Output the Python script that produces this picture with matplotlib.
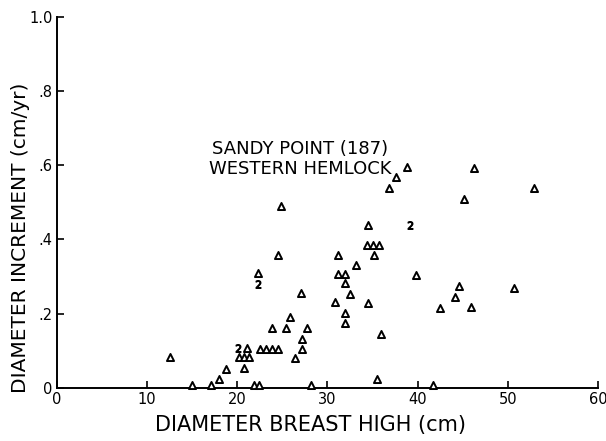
import matplotlib
matplotlib.use("Agg")
import matplotlib.pyplot as plt

# Data: diameter breast high (cm) vs diameter increment (cm/yr)
dbh = [12.5, 15.0, 17.1, 18.0, 18.8, 20.7, 20.2, 20.7, 21.3, 21.1,
       22.5, 23.2, 23.8, 24.5, 23.9, 25.4, 25.9, 27.2, 27.2, 26.4,
       27.7, 21.9, 22.4, 24.5, 24.9, 22.3, 27.1, 28.2, 38.8, 46.3,
       37.6, 36.8, 52.9, 45.1, 34.5, 34.4, 35.1, 35.7, 35.2, 31.2,
       33.2, 31.2, 31.9, 39.8, 31.9, 44.6, 50.7, 32.5, 44.1, 30.8,
       34.5, 42.5, 45.9, 32.0, 32.0, 35.9, 35.5, 41.7]
increment = [0.084, 0.008, 0.008, 0.024, 0.051, 0.054, 0.084, 0.084, 0.084, 0.108,
             0.105, 0.105, 0.105, 0.105, 0.162, 0.162, 0.192, 0.132, 0.105, 0.081,
             0.162, 0.008, 0.008, 0.357, 0.490, 0.311, 0.257, 0.008, 0.595, 0.592,
             0.568, 0.538, 0.538, 0.508, 0.438, 0.384, 0.384, 0.384, 0.359, 0.357,
             0.330, 0.308, 0.308, 0.303, 0.284, 0.276, 0.270, 0.254, 0.246, 0.232,
             0.230, 0.216, 0.219, 0.203, 0.176, 0.146, 0.024, 0.008]
# Points marked "2" (two coincident trees)
dbh_double = [20.1, 22.3, 39.2]
increment_double = [0.108, 0.281, 0.438]

x_ticks = [0, 10, 20, 30, 40, 50, 60]
x_ticklabels = ["0", "10", "20", "30", "40", "50", "60"]
y_ticks = [0, 0.2, 0.4, 0.6, 0.8, 1.0]
y_ticklabels = ["0", ".2", ".4", ".6", ".8", "1.0"]

fig = plt.figure(figsize=(6.06, 4.41), dpi=100)
ax = fig.add_axes([0.094, 0.1202, 0.8927, 0.842])

ax.scatter(dbh, increment, marker="^", s=26, facecolors="white",
           edgecolors="black", linewidths=1.4, clip_on=False, zorder=3)
ax.scatter(dbh_double, increment_double, marker="$2$", s=32, c="black",
           linewidths=0.8, clip_on=False, zorder=3)

ax.set_xlim(0, 60)
ax.set_ylim(0, 1.0)
ax.set_xticks(x_ticks)
ax.set_xticklabels(x_ticklabels)
ax.set_yticks(y_ticks)
ax.set_yticklabels(y_ticklabels)
ax.tick_params(direction="in", length=5, width=1.2, labelsize=10.5, pad=3)
for s in ["top", "right"]:
    ax.spines[s].set_visible(False)
for s in ["left", "bottom"]:
    ax.spines[s].set_linewidth(1.4)

ax.set_xlabel("DIAMETER BREAST HIGH (cm)", fontsize=15)
ax.xaxis.set_label_coords(0.468, -0.072)
ax.set_ylabel("DIAMETER INCREMENT (cm/yr)", fontsize=14.5)
ax.yaxis.set_label_coords(-0.05, 0.405)

ax.text(0.45, 0.616, "SANDY POINT (187)\nWESTERN HEMLOCK", transform=ax.transAxes,
        fontsize=13, ha="center", va="center", linespacing=1.15)

fig.savefig("out.png", dpi=100)
